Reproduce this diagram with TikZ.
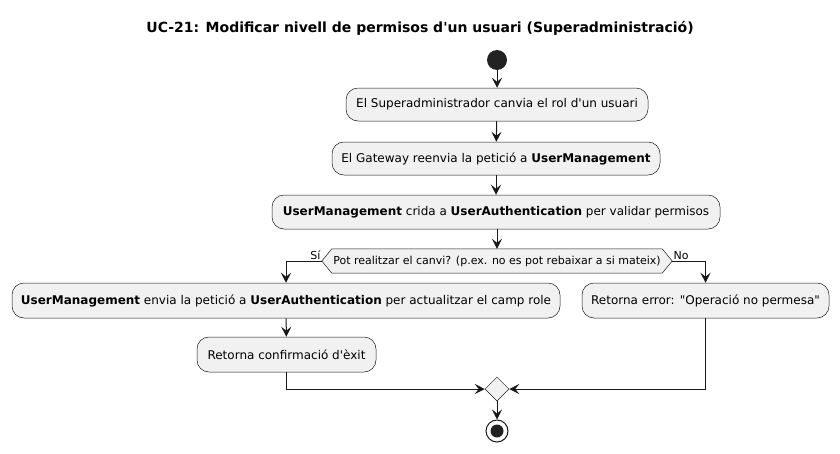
\documentclass[tikz,border=0pt]{standalone}
\usepackage{fontspec}
\setmainfont{DejaVu Sans}[Ligatures=TeXOff]
\usetikzlibrary{shapes.geometric,calc,arrows.meta}
\definecolor{boxfill}{HTML}{F1F1F1}
\definecolor{ink}{HTML}{181818}
\definecolor{dot}{HTML}{222222}
\begin{document}
\begin{tikzpicture}[x=1pt,y=-1pt,
  act/.style={draw=ink,line width=0.5pt,fill=boxfill,rounded corners=12pt,
    inner sep=0pt,font=\fontsize{12}{14}\selectfont,align=center},
  conn/.style={draw=ink,line width=1pt,-{Stealth[length=10pt,width=10pt,inset=4pt]}},
  lbl/.style={font=\fontsize{11}{13}\selectfont,inner sep=1pt}]
\useasboundingbox (0,0) rectangle (840,453);
\node[font=\fontsize{14}{16}\selectfont\bfseries] (title) at (420,28)
  {UC-21: Modificar nivell de permisos d'un usuari (Superadministració)};
\node[circle,fill=dot,minimum size=20pt,inner sep=0pt] (start) at (497,60) {};
\node[act,minimum width=302pt,minimum height=33pt] (b1) at (497,104.5)
  {El Superadministrador canvia el rol d'un usuari};
\node[act,minimum width=328pt,minimum height=33pt] (b2) at (496,158.5)
  {El Gateway reenvia la petició a \textbf{UserManagement}};
\node[act,minimum width=448pt,minimum height=34pt] (b3) at (496,212)
  {\textbf{UserManagement} crida a \textbf{UserAuthentication} per validar permisos};
\node[lbl,minimum width=330pt,minimum height=24pt,inner sep=0pt] (d) at (497,261) {};
\coordinate (dl) at ($(d.west)+(-10,0)$);
\coordinate (dr) at ($(d.east)+(10,0)$);
\draw[draw=ink,line width=0.5pt,fill=boxfill] (d.north west) -- (d.north east) -- (dr)
  -- (d.south east) -- (d.south west) -- (dl) -- cycle;
\node[lbl] (dtext) at (d) {Pot realitzar el canvi? (p.ex. no es pot rebaixar a si mateix)};
\node[act,minimum width=548pt,minimum height=35pt] (L) at (286,300.5)
  {\textbf{UserManagement} envia la petició a \textbf{UserAuthentication} per actualitzar el camp role};
\node[act,minimum width=247pt,minimum height=35pt] (R) at (705.5,300.5)
  {Retorna error: "Operació no permesa"};
\node[act,minimum width=179pt,minimum height=35pt] (C) at (286.5,354.5)
  {Retorna confirmació d'èxit};
\node[diamond,draw=ink,line width=0.5pt,fill=boxfill,minimum size=24pt,inner sep=0pt] (M) at (497,389) {};
\node[circle,draw=ink,line width=1pt,minimum size=22pt,inner sep=0pt] (end) at (497,431) {};
\node[circle,fill=dot,minimum size=13pt,inner sep=0pt] (endin) at (end) {};
\draw[conn] (start) -- (b1);
\draw[conn] (b1) -- (b2);
\draw[conn] (b2) -- (b3.north -| b2.south);
\draw[conn] (b3.south -| d.north) -- (d.north);
\draw[conn] (dl) -| (L.north) node[pos=0, anchor=south east, lbl, inner sep=1pt] {Sí};
\draw[conn] (dr) -| (R.north) node[pos=0, anchor=south west, lbl, inner sep=1pt] {No};
\draw[conn] (L) -- (C);
\draw[conn] (C.south) |- (M.west);
\draw[conn] (R.south) |- (M.east);
\draw[conn] (M) -- (end);
\end{tikzpicture}
\end{document}
